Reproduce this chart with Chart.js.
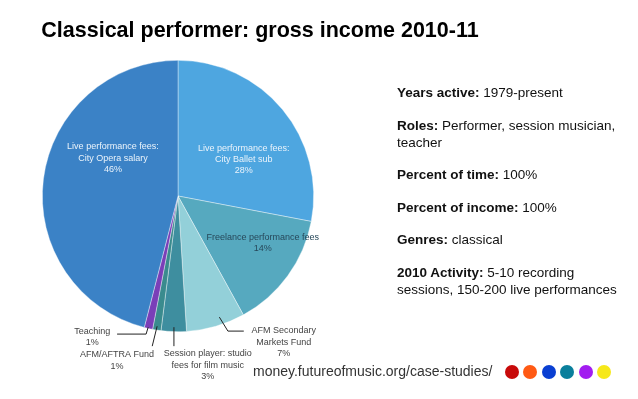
<!DOCTYPE html>
<html>
<head>
<meta charset="utf-8">
<script src="https://cdn.jsdelivr.net/npm/chart.js@4"></script>
<style>
  body { margin: 0; background: #fff; font-family: "Liberation Sans", Arial, sans-serif; }
  #wrap { position: relative; width: 638px; height: 399px; overflow: hidden; }
  #chart { position: absolute; left: 0; top: 0; }
  h1 { position: absolute; left: 0; width: 520px; top: 18px; margin: 0; text-align: center;
       font-size: 21.5px; font-weight: bold; color: #000; }
  .facts { position: absolute; left: 397px; top: 84px; width: 228px; font-size: 13.5px; color: #111; line-height: 17px; }
  .facts p { margin: 0 0 15.5px 0; }
  .site { position: absolute; left: 253px; top: 363px; font-size: 14px; color: #333; }
  .dots { position: absolute; left: 505px; top: 365px; }
  .dots span { display: inline-block; width: 14px; height: 14px; border-radius: 50%; margin-right: 4.4px; }
</style>
</head>
<body>
<div id="wrap">
  <canvas id="chart" width="638" height="399"></canvas>
  <h1>Classical performer: gross income 2010-11</h1>
  <div class="facts">
    <p><b>Years active:</b> 1979-present</p>
    <p><b>Roles:</b> Performer, session musician, teacher</p>
    <p><b>Percent of time:</b> 100%</p>
    <p><b>Percent of income:</b> 100%</p>
    <p><b>Genres:</b> classical</p>
    <p><b>2010 Activity:</b> 5-10 recording sessions, 150-200 live performances</p>
  </div>
  <div class="site">money.futureofmusic.org/case-studies/</div>
  <div class="dots">
    <span style="background:#c80a0a"></span><span style="background:#ff5a14"></span><span style="background:#0a3fd2"></span><span style="background:#0a7f9c"></span><span style="background:#a21df0"></span><span style="background:#f6e81a"></span>
  </div>
</div>
<script>
// Income sources, clockwise from 12 o'clock
const categories = [
  ['Live performance fees:', 'City Ballet sub'],
  ['Freelance performance fees'],
  ['AFM Secondary', 'Markets Fund'],
  ['Session player: studio', 'fees for film music'],
  ['AFM/AFTRA Fund'],
  ['Teaching'],
  ['Live performance fees:', 'City Opera salary']
];
const shares = [28, 14, 7, 3, 1, 1, 46];
const sliceColors = ['#4ea6e0', '#56a9bf', '#93d0d9', '#3e8e9f', '#3a8b8e', '#7a3fb8', '#3b82c6'];

// label placement, in units of the pie radius from its centre
// leader: polyline from the slice out to the label (outside labels only)
const labelLayout = [
  { at: [0.485, -0.27], color: '#eaf3fb' },
  { at: [0.625, 0.345], color: '#27485a' },
  { at: [0.78, 1.077], color: '#444', leader: [[0.305, 0.893], [0.368, 0.996], [0.485, 0.996]] },
  { at: [0.22, 1.246], color: '#444', leader: [[-0.03, 0.967], [-0.03, 1.107]] },
  { at: [-0.449, 1.213], color: '#444', leader: [[-0.154, 0.96], [-0.19, 1.107]] },
  { at: [-0.632, 1.04], color: '#444', leader: [[-0.22, 0.967], [-0.235, 1.018], [-0.449, 1.018]] },
  { at: [-0.48, -0.28], color: '#eaf3fb' }
];

const sliceLabels = {
  id: 'sliceLabels',
  afterDatasetsDraw(chart) {
    const ctx = chart.ctx;
    const arcs = chart.getDatasetMeta(0).data;
    const cx = arcs[0].x, cy = arcs[0].y, r = arcs[0].outerRadius;
    ctx.save();
    ctx.font = '9px "Liberation Sans", Arial, sans-serif';
    ctx.textAlign = 'center';
    ctx.textBaseline = 'middle';
    arcs.forEach((arc, i) => {
      const lay = labelLayout[i];
      if (lay.leader) {
        ctx.beginPath();
        ctx.strokeStyle = '#222';
        ctx.lineWidth = 1;
        lay.leader.forEach((p, k) => {
          const px = cx + p[0] * r, py = cy + p[1] * r;
          if (k === 0) ctx.moveTo(px, py); else ctx.lineTo(px, py);
        });
        ctx.stroke();
      }
      const lines = categories[i].concat([shares[i] + '%']);
      const lh = 11.3;
      const x = cx + lay.at[0] * r;
      let y = cy + lay.at[1] * r - (lines.length - 1) * lh / 2;
      ctx.fillStyle = lay.color;
      lines.forEach(t => { ctx.fillText(t, x, y); y += lh; });
    });
    ctx.restore();
  }
};

new Chart(document.getElementById('chart'), {
  type: 'pie',
  data: {
    labels: categories.map(c => c.join(' ')),
    datasets: [{
      data: shares,
      backgroundColor: sliceColors,
      borderColor: 'rgba(255,255,255,0.55)',
      borderWidth: 0.7
    }]
  },
  options: {
    responsive: false,
    animation: false,
    devicePixelRatio: 1,
    layout: { padding: { left: 42, right: 324, top: 60, bottom: 67 } },
    plugins: {
      legend: { display: false },
      tooltip: { enabled: false }
    }
  },
  plugins: [sliceLabels]
});
</script>
</body>
</html>
